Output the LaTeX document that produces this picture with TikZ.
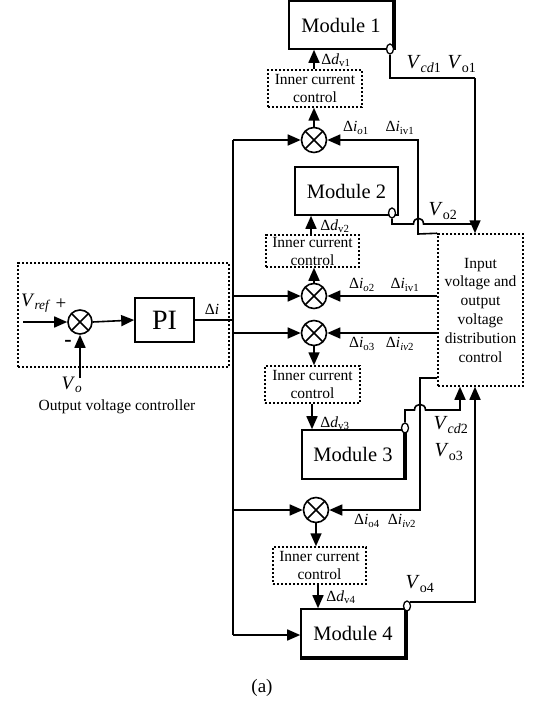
\documentclass[tikz,border=0pt]{standalone}
\usepackage{fontspec}
\setmainfont{Liberation Serif}
\usetikzlibrary{arrows.meta,calc,shapes.geometric}
\begin{document}
\begin{tikzpicture}[x=1pt,y=-1pt, line width=1.6pt,
  >={Triangle[length=13pt,width=11pt]},
  modbox/.style={draw, rectangle, inner sep=0pt, minimum width=103pt, minimum height=48pt, font=\fontsize{20.5}{22}\selectfont},
  dotbox/.style={draw, rectangle, line width=1.5pt, dash pattern=on 2.4pt off 1.6pt, inner sep=0pt, align=center, font=\fontsize{15.5}{18}\selectfont},
  pibox/.style={draw, rectangle, inner sep=0pt, minimum width=59pt, minimum height=44pt, font=\fontsize{28}{28}\selectfont},
  mult/.style={circle, draw, minimum size=25pt, inner sep=0pt,
    path picture={\draw ($(path picture bounding box.center)+(-8.5,-8.5)$) -- ($(path picture bounding box.center)+(8.5,8.5)$);
                  \draw ($(path picture bounding box.center)+(-8.5,8.5)$) -- ($(path picture bounding box.center)+(8.5,-8.5)$);}},
  port/.style={ellipse, draw, fill=white, line width=1.3pt, minimum width=7pt, minimum height=10pt, inner sep=0pt},
  lab/.style={inner sep=0pt, font=\fontsize{15.5}{15.5}\selectfont},
  vlab/.style={inner sep=0pt, font=\fontsize{20}{20}\selectfont},
  thickedge/.style={line width=3pt}
]
\useasboundingbox (0,0) rectangle (545,706);

% modules
\node[modbox, minimum width=104pt] (mod1) at (341,25) {Module 1};
\node[modbox] (mod2) at (346.5,191) {Module 2};
\node[modbox, minimum width=102pt, minimum height=49pt] (mod3) at (353,454.5) {Module 3};
\node[modbox, minimum width=104pt] (mod4) at (353,633) {Module 4};
\draw[thickedge] ($(mod1.north east)+(0.8,0)$) -- ($(mod1.south east)+(0.8,0)$);
\draw[thickedge] ($(mod3.north east)+(0.8,0)$) -- ($(mod3.south east)+(0.8,0)$);
\draw[thickedge] ($(mod4.north east)+(0.8,0)$) -- ($(mod4.south east)+(0.8,0.8)$) -- ($(mod4.south west)+(0,0.8)$);

% inner current control boxes
\node[dotbox, minimum width=94pt, minimum height=37pt] (icc1) at (315,88.5) {Inner current\\control};
\node[dotbox, minimum width=93pt, minimum height=32pt] (icc2) at (312.5,251) {Inner current\\control};
\node[dotbox, minimum width=95pt, minimum height=37pt] (icc3) at (312.5,384.5) {Inner current\\control};
\node[dotbox, minimum width=93pt, minimum height=37pt] (icc4) at (319.5,565.5) {Inner current\\control};

% distribution control
\node[dotbox, minimum width=85pt, minimum height=152pt, font=\fontsize{15.5}{18.8}\selectfont] (ctrl) at (480.5,310) {Input\\voltage and\\output\\voltage\\distribution\\control};

% multipliers
\node[mult] (m1) at (314,140) {};
\node[mult] (m2) at (314,296) {};
\node[mult] (m3) at (314,333) {};
\node[mult] (m4) at (316,510) {};

% output voltage controller
\node[dotbox, minimum width=211pt, minimum height=104pt] (ovc) at (123.5,315) {};
\node[mult, minimum size=24pt] (sum) at (80,322) {};
\node[pibox] (pi) at (164.5,320) {PI};
\coordinate (vin) at (23,322);
\coordinate (vo) at (80,378);
\draw[->] (vin) -- (sum.west);
\draw[->] (sum.east) -- (pi.west);
\draw[->] (vo) -- (sum.south);
\node[vlab, font=\fontsize{19}{19}\selectfont] (vref) at (36,303) {\textit{V}\textsubscript{\textit{ref}}};
\node[lab, font=\fontsize{19}{19}\selectfont] (plus) at (61,304) {+};
\node[lab, font=\fontsize{22}{22}\selectfont\bfseries] (minus) at (68,343) {-};
\node[vlab, font=\fontsize{19}{19}\selectfont] (volab) at (72,385) {\textit{V}\textsubscript{\textit{o}}};
\node[lab, font=\fontsize{15.5}{15.5}\selectfont] (ovct) at (117,407) {Output voltage controller};

% bus
\coordinate (btop) at (233,140);
\coordinate (bbot) at (233,635);
\draw (pi.east) -- (pi.east -| btop);
\node[lab] (dil) at (212,309) {Δ\textit{i}};
\draw (btop) -- (bbot);
\draw[->] (btop) -- (m1.west);
\draw[->] (m2.west -| btop) -- (m2.west);
\draw[->] (m3.west -| btop) -- (m3.west);
\draw[->] (m4.west -| btop) -- (m4.west);
\draw[->] (bbot) -- (bbot -| mod4.west);

% chain 1
\draw[->] (m1.north) -- (m1.north |- icc1.south);
\draw[->] (m1.north |- icc1.north) -- (m1.north |- mod1.south);
% chain 2
\coordinate (x2) at (311,0);
\draw[->] (m2.north) -- (m2.north |- icc2.south);
\draw[->] (x2 |- icc2.north) -- (x2 |- mod2.south);
% chain 3
\coordinate (x3) at (312,0);
\draw[->] (m3.south) -- (m3.south |- icc3.north);
\draw[->] (x3 |- icc3.south) -- (x3 |- mod3.north);
% chain 4
\coordinate (x4) at (318,0);
\draw[->] (m4.south) -- (m4.south |- icc4.north);
\draw[->] (x4 |- icc4.south) -- (x4 |- mod4.north);

% feedback into multipliers from distribution control
\coordinate (f1) at (418,234);
\draw[->] (ctrl.north west) -- (f1) -- (f1 |- m1.east) -- (m1.east);
\draw[->] (m2.east -| ctrl.west) -- (m2.east);
\draw[->] (m3.east -| ctrl.west) -- (m3.east);
\coordinate (f4) at (420,378);
\draw[->] (f4 -| ctrl.west) -- (f4) -- (f4 |- m4.east) -- (m4.east);

% module outputs
\node[port] (o1) at (390,49) {};
\coordinate (j1) at (475,78);
\draw (o1.south) -- (o1.south |- j1) -- (j1);
\draw[->] (j1) -- (j1 |- ctrl.north);

\node[port] (o2) at (392,213) {};
\draw (o2.south) -- (392,224) -- (413.5,224) .. controls (413.5,216.5) and (423.5,216.5) .. (423.5,224) -- (475,224);

\node[port] (o3) at (405,428) {};
\coordinate (c3) at (460,410);
\draw[->] (o3.north) -- (405,410) -- (414.5,410) .. controls (414.5,402.5) and (425.5,402.5) .. (425.5,410) -- (c3) -- (c3 |- ctrl.south);

\node[port] (o4) at (407,606) {};
\coordinate (c4) at (475,601);
\draw[->] (o4.north east) -- (o4.north east -| c4) -- (c4 |- ctrl.south);

% labels
\node[lab] (ldv1) at (336,60) {Δ\textit{d}\textsubscript{v1}};
\node[vlab] (lvcd1) at (424,64) {\textit{V}\textsubscript{\textit{cd}1}};
\node[vlab] (lvo1) at (462,64) {\textit{V}\textsubscript{o1}};
\node[lab] (lio1) at (356,128) {Δ\textit{i}\textsubscript{\textit{o}1}};
\node[lab] (liv1a) at (400,128) {Δ\textit{i}\textsubscript{iv1}};
\node[lab] (ldv2) at (335,226) {Δ\textit{d}\textsubscript{v2}};
\node[vlab] (lvo2) at (443,211) {\textit{V}\textsubscript{o2}};
\node[lab] (lio2) at (362,285) {Δ\textit{i}\textsubscript{\textit{o}2}};
\node[lab] (liv1b) at (405,285) {Δ\textit{i}\textsubscript{iv1}};
\node[lab] (lio3) at (362,344) {Δ\textit{i}\textsubscript{o3}};
\node[lab] (liv2a) at (400,344) {Δ\textit{i}\textsubscript{\textit{iv}2}};
\node[lab] (ldv3) at (335,423) {Δ\textit{d}\textsubscript{v3}};
\node[vlab] (lvcd2) at (451,425) {\textit{V}\textsubscript{\textit{cd}2}};
\node[vlab] (lvo3) at (449,452) {\textit{V}\textsubscript{o3}};
\node[lab] (lio4) at (367,521) {Δ\textit{i}\textsubscript{o4}};
\node[lab] (liv2b) at (402,521) {Δ\textit{i}\textsubscript{\textit{iv}2}};
\node[lab] (ldv4) at (341,597) {Δ\textit{d}\textsubscript{v4}};
\node[vlab] (lvo4) at (420,584) {\textit{V}\textsubscript{o4}};
\node[lab, font=\fontsize{19}{19}\selectfont] (cap) at (262,688) {(a)};
\end{tikzpicture}
\end{document}
